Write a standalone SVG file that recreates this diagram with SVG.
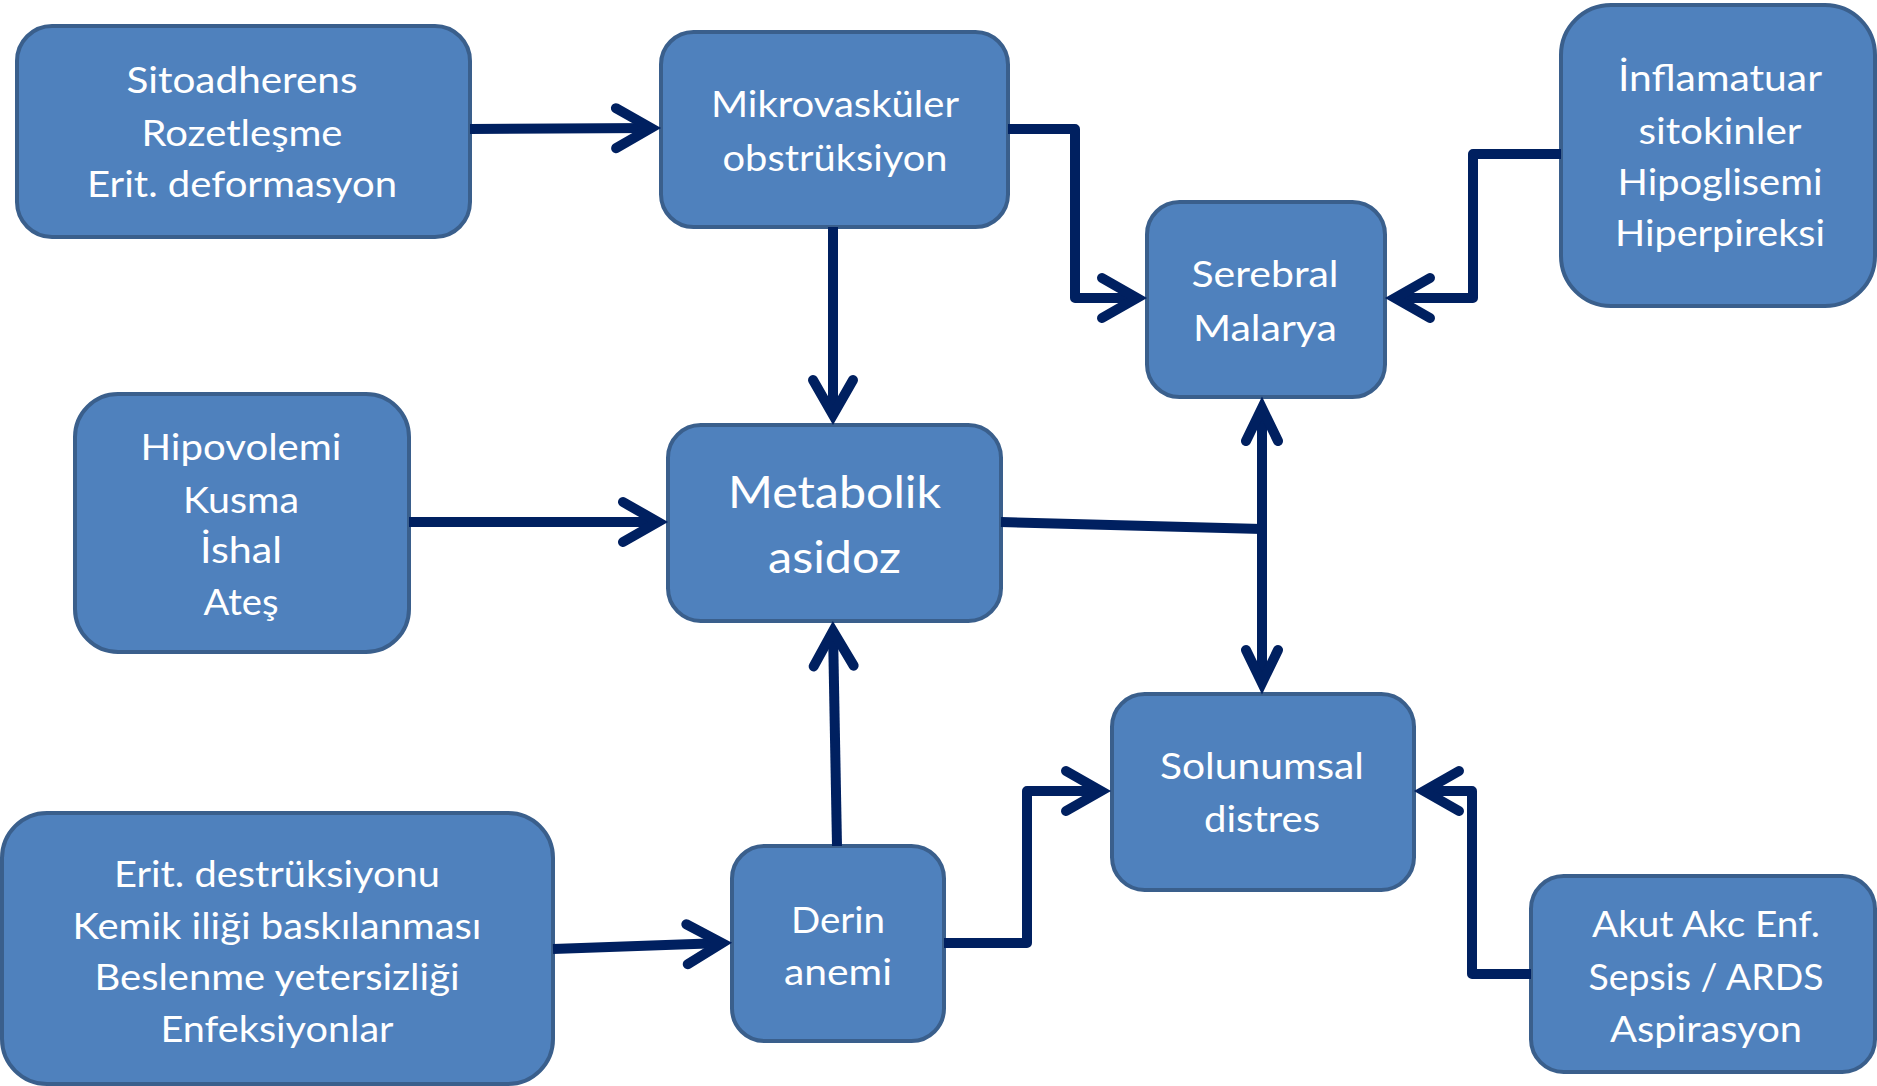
<svg xmlns="http://www.w3.org/2000/svg" width="1877" height="1086" viewBox="0 0 1877 1086">
<style>
.box{fill:#4f81bd;stroke:#3a5f8c;stroke-width:4}
.t{font-family:Lato,"Liberation Sans",sans-serif;font-size:37px;fill:#ffffff;text-anchor:middle}
.big{font-size:44px}
.c{fill:none;stroke:#002060;stroke-width:10;stroke-linejoin:round}
</style>
<defs>
<marker id="ah" markerUnits="userSpaceOnUse" viewBox="-50 -35 70 70" refX="0" refY="0" markerWidth="70" markerHeight="70" orient="auto-start-reverse" overflow="visible">
<path d="M-35,-20 L0,0 L-35,20" fill="none" stroke="#002060" stroke-width="10" stroke-linecap="round" stroke-linejoin="miter" stroke-miterlimit="6"/>
</marker>
<marker id="ah2" markerUnits="userSpaceOnUse" viewBox="-50 -35 70 70" refX="0" refY="0" markerWidth="70" markerHeight="70" orient="auto-start-reverse" overflow="visible">
<path d="M-33,-16 L0,0 L-33,16" fill="none" stroke="#002060" stroke-width="10" stroke-linecap="round" stroke-linejoin="miter" stroke-miterlimit="6"/>
</marker>
</defs>
<rect width="1877" height="1086" fill="#ffffff"/>
<g id="n-sitoadherens">
<rect class="box" x="17" y="26" width="453" height="211" rx="35"/>
<text class="t" x="242" y="93" textLength="231" lengthAdjust="spacingAndGlyphs">Sitoadherens</text>
<text class="t" x="242" y="146" textLength="201" lengthAdjust="spacingAndGlyphs">Rozetleşme</text>
<text class="t" x="242" y="197" textLength="310" lengthAdjust="spacingAndGlyphs">Erit. deformasyon</text>
</g>
<g id="n-mikrovaskuler">
<rect class="box" x="661" y="32" width="347" height="195" rx="32.5"/>
<text class="t" x="835" y="117" textLength="248" lengthAdjust="spacingAndGlyphs">Mikrovasküler</text>
<text class="t" x="835" y="171" textLength="225" lengthAdjust="spacingAndGlyphs">obstrüksiyon</text>
</g>
<g id="n-serebral">
<rect class="box" x="1147" y="202" width="238" height="195" rx="32.5"/>
<text class="t" x="1265" y="287" textLength="147" lengthAdjust="spacingAndGlyphs">Serebral</text>
<text class="t" x="1265" y="341" textLength="144" lengthAdjust="spacingAndGlyphs">Malarya</text>
</g>
<g id="n-inflamatuar">
<rect class="box" x="1561" y="5" width="314" height="301" rx="50"/>
<text class="t" x="1720" y="91" textLength="204" lengthAdjust="spacingAndGlyphs">İnflamatuar</text>
<text class="t" x="1720" y="144" textLength="163" lengthAdjust="spacingAndGlyphs">sitokinler</text>
<text class="t" x="1720" y="195" textLength="205" lengthAdjust="spacingAndGlyphs">Hipoglisemi</text>
<text class="t" x="1720" y="246" textLength="210" lengthAdjust="spacingAndGlyphs">Hiperpireksi</text>
</g>
<g id="n-hipovolemi">
<rect class="box" x="75" y="394" width="334" height="258" rx="43"/>
<text class="t" x="241" y="460" textLength="201" lengthAdjust="spacingAndGlyphs">Hipovolemi</text>
<text class="t" x="241" y="513" textLength="116" lengthAdjust="spacingAndGlyphs">Kusma</text>
<text class="t" x="241" y="563" textLength="82" lengthAdjust="spacingAndGlyphs">İshal</text>
<text class="t" x="241" y="615" textLength="75" lengthAdjust="spacingAndGlyphs">Ateş</text>
</g>
<g id="n-metabolik">
<rect class="box" x="668" y="425" width="333" height="196" rx="32.7"/>
<text class="t big" x="834.5" y="508" textLength="213" lengthAdjust="spacingAndGlyphs">Metabolik</text>
<text class="t big" x="834.5" y="573" textLength="133" lengthAdjust="spacingAndGlyphs">asidoz</text>
</g>
<g id="n-solunumsal">
<rect class="box" x="1112" y="694" width="302" height="196" rx="32.7"/>
<text class="t" x="1262" y="779" textLength="204" lengthAdjust="spacingAndGlyphs">Solunumsal</text>
<text class="t" x="1262" y="832" textLength="116" lengthAdjust="spacingAndGlyphs">distres</text>
</g>
<g id="n-akut">
<rect class="box" x="1531" y="876" width="344" height="196" rx="32.7"/>
<text class="t" x="1706" y="937" textLength="228" lengthAdjust="spacingAndGlyphs">Akut Akc Enf.</text>
<text class="t" x="1706" y="990" textLength="235" lengthAdjust="spacingAndGlyphs">Sepsis / ARDS</text>
<text class="t" x="1706" y="1042" textLength="192" lengthAdjust="spacingAndGlyphs">Aspirasyon</text>
</g>
<g id="n-erit">
<rect class="box" x="2" y="813" width="551" height="271" rx="45"/>
<text class="t" x="277" y="887" textLength="326" lengthAdjust="spacingAndGlyphs">Erit. destrüksiyonu</text>
<text class="t" x="277" y="939" textLength="409" lengthAdjust="spacingAndGlyphs">Kemik iliği baskılanması</text>
<text class="t" x="277" y="990" textLength="365" lengthAdjust="spacingAndGlyphs">Beslenme yetersizliği</text>
<text class="t" x="277" y="1042" textLength="233" lengthAdjust="spacingAndGlyphs">Enfeksiyonlar</text>
</g>
<g id="n-derin">
<rect class="box" x="732" y="846" width="212" height="195" rx="32.5"/>
<text class="t" x="838" y="933" textLength="94" lengthAdjust="spacingAndGlyphs">Derin</text>
<text class="t" x="838" y="985" textLength="108" lengthAdjust="spacingAndGlyphs">anemi</text>
</g>
<g id="connectors">
<path class="c" d="M470,129 L651,128" marker-end="url(#ah)"/>
<path class="c" d="M1008,129 H1075 V298 H1137" marker-end="url(#ah)"/>
<path class="c" d="M1561,154 H1473 V298 H1395" marker-end="url(#ah)"/>
<path class="c" d="M833,227 V415" marker-end="url(#ah)"/>
<path class="c" d="M409,522 H658" marker-end="url(#ah)"/>
<path class="c" d="M837,846 L833,631" marker-end="url(#ah)"/>
<path class="c" d="M1001,522 L1262,529"/>
<path class="c" d="M1262,408 V683" marker-start="url(#ah2)" marker-end="url(#ah2)"/>
<path class="c" d="M553,949 L722,943" marker-end="url(#ah)"/>
<path class="c" d="M944,943 H1027 V791 H1101" marker-end="url(#ah)"/>
<path class="c" d="M1531,974 H1472 V791 H1424" marker-end="url(#ah)"/>
</g>
</svg>
